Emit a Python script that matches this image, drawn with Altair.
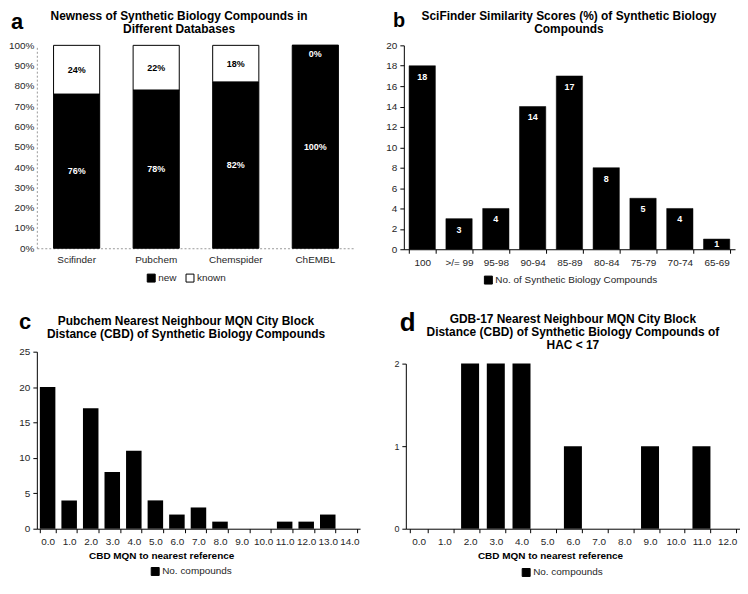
import altair as alt
import pandas as pd

FONT = "Liberation Sans"
LABEL_COLOR = "#262626"

# ---------------- data ----------------
A_DBS = ["Scifinder", "Pubchem", "Chemspider", "ChEMBL"]
A_NEW = [76, 78, 82, 100]
A_KNOWN = [24, 22, 18, 0]
A_TITLE = ["Newness of Synthetic Biology Compounds in", "Different Databases"]
A_TICKS = [0, 10, 20, 30, 40, 50, 60, 70, 80, 90, 100]

B_CATS = ["100", ">/= 99", "95-98", "90-94", "85-89", "80-84", "75-79", "70-74", "65-69"]
B_VALS = [18, 3, 4, 14, 17, 8, 5, 4, 1]
B_SERIES = "No. of Synthetic Biology Compounds"
B_TITLE = ["SciFinder Similarity Scores (%) of Synthetic Biology", "Compounds"]
B_TICKS = [0, 2, 4, 6, 8, 10, 12, 14, 16, 18, 20]

C_CATS = ["0.0", "1.0", "2.0", "3.0", "4.0", "5.0", "6.0", "7.0", "8.0", "9.0",
          "10.0", "11.0", "12.0", "13.0", "14.0"]
C_VALS = [20, 4, 17, 8, 11, 4, 2, 3, 1, 0, 0, 1, 1, 2, 0]
C_TITLE = ["Pubchem Nearest Neighbour MQN City Block",
           "Distance (CBD) of Synthetic Biology Compounds"]
C_TICKS = [0, 5, 10, 15, 20, 25]

D_CATS = ["0.0", "1.0", "2.0", "3.0", "4.0", "5.0", "6.0", "7.0", "8.0", "9.0",
          "10.0", "11.0", "12.0"]
D_VALS = [0, 0, 2, 2, 2, 0, 1, 0, 0, 1, 0, 1, 0]
D_TITLE = ["GDB-17 Nearest Neighbour MQN City Block",
           "Distance (CBD) of Synthetic Biology Compounds of", "HAC < 17"]
D_YMAX = 2

CD_SERIES = "No. compounds"
CD_XTITLE = "CBD MQN to nearest reference"


# ---------------- helpers ----------------
def letter_layer(letter, size, x, y):
    return alt.Chart(pd.DataFrame({"t": [letter]})).mark_text(
        font=FONT, fontSize=size, fontWeight="bold", align="left",
        baseline="alphabetic", color="black"
    ).encode(text="t:N", x=alt.value(x), y=alt.value(y))


def title_layer(lines, x, y, lh=13.2):
    return alt.Chart(pd.DataFrame({"t": ["\n".join(lines)]})).mark_text(
        font=FONT, fontSize=12, fontWeight="bold", align="center",
        baseline="alphabetic", lineBreak="\n", lineHeight=lh, color="black"
    ).encode(text="t:N", x=alt.value(x), y=alt.value(y))


def legend(x, y):
    return alt.Legend(title=None, orient="none", legendX=x, legendY=y,
                      direction="horizontal", symbolType="square", symbolSize=64,
                      symbolStrokeColor="black", symbolStrokeWidth=1,
                      labelFontSize=10, labelColor=LABEL_COLOR, labelOffset=2,
                      columnPadding=7, labelLimit=400)


def yaxis(tick_values=None, count=None, label_size=10, **kw):
    extra = {}
    if tick_values is not None:
        extra["values"] = tick_values
        extra["tickCount"] = len(tick_values)
    if count is not None:
        extra["tickCount"] = count
    return alt.Axis(title=None, labelOverlap=False, labelFontSize=label_size, labelPadding=3,
                    labelColor=LABEL_COLOR, **extra, **kw)


# ---------------- panel a ----------------
rows = []
for db, n, k in zip(A_DBS, A_NEW, A_KNOWN):
    rows.append(dict(db=db, status="new", pct=n, lo=0, hi=n))
    rows.append(dict(db=db, status="known", pct=k, lo=n, hi=n + k))
a_df = pd.DataFrame(rows)
a_df["mid"] = (a_df["lo"] + a_df["hi"]) / 2
a_df["label"] = a_df["pct"].astype(str) + "%"

xa = alt.X("db:N", sort=A_DBS,
           scale=alt.Scale(paddingInner=0.42, paddingOuter=0.21),
           axis=alt.Axis(title=None, labelAngle=0, ticks=False, domainColor="#999",
                         domainDash=[2, 2], labelFontSize=10, labelPadding=6,
                         labelColor=LABEL_COLOR))
a_y = alt.Y("lo:Q", scale=alt.Scale(domain=[0, 100]),
            axis=yaxis(A_TICKS, labelExpr="datum.value + '%'", ticks=False,
                       domainColor="#999", domainDash=[2, 2]))
a_base = alt.Chart(a_df)
a_bars = a_base.mark_bar(stroke="black", strokeWidth=1).encode(
    x=xa, y=a_y, y2="hi:Q",
    color=alt.Color("status:N", scale=alt.Scale(domain=["new", "known"], range=["black", "white"]),
                    legend=legend(110, 229)),
)
txt_kw = dict(font=FONT, fontSize=9, fontWeight="bold", baseline="middle")
a_t1 = a_base.transform_filter("datum.status == 'new'").mark_text(color="white", **txt_kw).encode(
    x=alt.X("db:N", sort=A_DBS), y="mid:Q", text="label:N")
a_t2 = a_base.transform_filter("datum.status == 'known' && datum.pct > 0").mark_text(
    color="black", **txt_kw).encode(x=alt.X("db:N", sort=A_DBS), y="mid:Q", text="label:N")
a_t3 = a_base.transform_filter("datum.pct == 0").mark_text(color="white", dy=9, **txt_kw).encode(
    x=alt.X("db:N", sort=A_DBS), y="hi:Q", text="label:N")

panel_a = alt.layer(
    a_bars, a_t1, a_t2, a_t3,
    letter_layer("a", 22, -26, -16.5),
    title_layer(A_TITLE, 143, -26),
).properties(width=320, height=204)

# ---------------- panel b ----------------
b_df = pd.DataFrame({"cat": B_CATS, "n": B_VALS, "series": [B_SERIES] * len(B_CATS)})
b_df["half"] = b_df["n"] / 2
xb = alt.X("cat:N", sort=B_CATS,
           scale=alt.Scale(paddingInner=0.285, paddingOuter=0.1425),
           axis=alt.Axis(title=None, labelAngle=0, tickBand="extent", tickColor="black",
                         tickSize=4, domainColor="black", labelFontSize=10, labelPadding=4,
                         labelColor=LABEL_COLOR))
b_base = alt.Chart(b_df)
b_bars = b_base.mark_bar(stroke="black", strokeWidth=0.5).encode(
    x=xb,
    y=alt.Y("n:Q", scale=alt.Scale(domain=[0, 20]),
            axis=yaxis(B_TICKS, tickSize=4, tickColor="black", domainColor="black")),
    color=alt.Color("series:N", scale=alt.Scale(domain=[B_SERIES], range=["black"]),
                    legend=legend(80, 231)),
)
b_t1 = b_base.transform_filter("datum.n >= 2").mark_text(color="white", dy=11, **txt_kw).encode(
    x=alt.X("cat:N", sort=B_CATS), y="n:Q", text="n:Q")
b_t2 = b_base.transform_filter("datum.n < 2").mark_text(color="white", **txt_kw).encode(
    x=alt.X("cat:N", sort=B_CATS), y="half:Q", text="n:Q")

panel_b = alt.layer(
    b_bars, b_t1, b_t2,
    letter_layer("b", 20, -11, -18),
    title_layer(B_TITLE, 166, -26),
).properties(width=333, height=205)


# ---------------- panels c, d ----------------
def dist_panel(cats, vals, yscale, yax, pad, xtitle_x, xtitle_y, leg_x, leg_y):
    df = pd.DataFrame({"cat": cats, "n": vals, "series": [CD_SERIES] * len(cats)})
    return alt.Chart(df).mark_bar(color="black").encode(
        x=alt.X("cat:N", sort=cats,
                scale=alt.Scale(paddingInner=pad, paddingOuter=pad / 2),
                axis=alt.Axis(title=CD_XTITLE, titleFontSize=10, titleFontWeight="bold",
                              titleColor="black", titleX=xtitle_x, titleY=xtitle_y,
                              titleAlign="center", titleBaseline="middle",
                              labelAngle=0, tickBand="extent", tickColor="black", tickSize=4,
                              domainColor="black", labelFontSize=10, labelPadding=4,
                              labelOverlap=False, labelColor=LABEL_COLOR)),
        y=alt.Y("n:Q", scale=yscale, axis=yax),
        color=alt.Color("series:N", scale=alt.Scale(domain=[CD_SERIES], range=["black"]),
                        legend=legend(leg_x, leg_y)),
    )


c_bars = dist_panel(
    C_CATS, C_VALS, alt.Scale(domain=[0, C_TICKS[-1]]),
    yaxis(C_TICKS, format="d", tickSize=4, tickColor="black", domainColor="black"),
    0.28, 125, 27, 114, 216)
panel_c = alt.layer(
    c_bars,
    letter_layer("c", 22, -18, -23),
    title_layer(C_TITLE, 150, -27),
).properties(width=325, height=178)

d_bars = dist_panel(
    D_CATS, D_VALS, alt.Scale(domain=[0, D_YMAX], range=[178, 12], nice=False),
    yaxis(count=D_YMAX, label_size=9, format="d", tickSize=4, tickColor="black",
          domainColor="black"),
    0.3, 145, 27, 116, 217)
panel_d = alt.layer(
    d_bars,
    letter_layer("d", 26, -6, -21),
    title_layer(D_TITLE, 168, -29),
).properties(width=336, height=178)

row1 = alt.hconcat(panel_a, panel_b, spacing=30).resolve_scale(
    color="independent").resolve_legend(color="independent")
row2 = alt.hconcat(panel_c, panel_d, spacing=33).resolve_scale(
    color="independent").resolve_legend(color="independent")

chart = alt.vconcat(row1, row2, spacing=24).properties(
    padding={"top": 0, "left": 0, "right": 0, "bottom": 0}
).resolve_scale(color="independent").resolve_legend(color="independent").configure_view(
    stroke=None
).configure_axis(labelFont=FONT, titleFont=FONT, grid=False).configure_legend(labelFont=FONT)

chart.save("out.html", embed_options={"renderer": "svg", "actions": False})
